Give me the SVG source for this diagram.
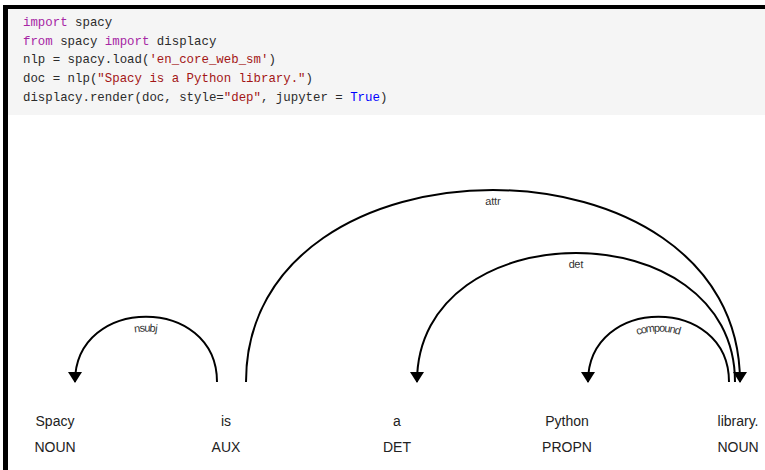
<svg xmlns="http://www.w3.org/2000/svg" width="765" height="470" viewBox="0 0 765 470">
<style>
.code{font-family:"Liberation Mono","DejaVu Sans Mono",monospace;font-size:12.4px;fill:#2b2b2b;white-space:pre}
.kw{fill:#a626a4}
.str{fill:#a31515}
.bool{fill:#0000ff}
.word{font-family:"Liberation Sans",Arial,sans-serif;font-size:14px;fill:#222;text-anchor:middle}
.arc{fill:none;stroke:#000;stroke-width:2}
.lbl{font-family:"Liberation Sans",Arial,sans-serif;font-size:11px;fill:#333;text-anchor:middle}
.head{fill:#000}
</style>
<defs>
<path id="p-nsubj" d="M75,382 C75,295 217,295 217,382"/>
<path id="p-attr" d="M246,382 C246,126 740,126 740,382"/>
<path id="p-det" d="M417,382 C417,210 735,210 735,382"/>
<path id="p-comp" d="M588,382 C588,295 729,295 729,382"/>
</defs>
<rect x="0" y="0" width="765" height="470" fill="#fff"/>
<rect x="3" y="5" width="762" height="4" fill="#000"/>
<rect x="3" y="5" width="5" height="465" fill="#000"/>
<rect x="8" y="9" width="757" height="106" fill="#f5f5f5"/>
<text class="code" x="23" y="26"><tspan class="kw">import</tspan> spacy</text>
<text class="code" x="23" y="44.7"><tspan class="kw">from</tspan> spacy <tspan class="kw">import</tspan> displacy</text>
<text class="code" x="23" y="63.4">nlp = spacy.load(<tspan class="str">'en_core_web_sm'</tspan>)</text>
<text class="code" x="23" y="82.1">doc = nlp(<tspan class="str">"Spacy is a Python library."</tspan>)</text>
<text class="code" x="23" y="100.8">displacy.render(doc, style=<tspan class="str">"dep"</tspan>, jupyter = <tspan class="bool">True</tspan>)</text>
<g id="w0"><text class="word" x="55" y="426">Spacy</text><text class="word" x="55" y="452">NOUN</text></g>
<g id="w1"><text class="word" x="226" y="426">is</text><text class="word" x="226" y="452">AUX</text></g>
<g id="w2"><text class="word" x="397" y="426">a</text><text class="word" x="397" y="452">DET</text></g>
<g id="w3"><text class="word" x="567" y="426">Python</text><text class="word" x="567" y="452">PROPN</text></g>
<g id="w4"><text class="word" x="738" y="426">library.</text><text class="word" x="738" y="452">NOUN</text></g>
<g id="connectors">
<use href="#p-nsubj" class="arc"/>
<use href="#p-attr" class="arc"/>
<use href="#p-det" class="arc"/>
<use href="#p-comp" class="arc"/>
<text class="lbl" dy="1.35em"><textPath href="#p-nsubj" startOffset="50%">nsubj</textPath></text>
<text class="lbl" dy="1.35em"><textPath href="#p-attr" startOffset="50%">attr</textPath></text>
<text class="lbl" dy="1.35em"><textPath href="#p-det" startOffset="50%">det</textPath></text>
<text class="lbl" dy="1.35em"><textPath href="#p-comp" startOffset="50%">compound</textPath></text>
<path class="head" d="M68,372 L82,372 L75,383 Z"/>
<path class="head" d="M733,372 L747,372 L740,383 Z"/>
<path class="head" d="M410,372 L424,372 L417,383 Z"/>
<path class="head" d="M581,372 L595,372 L588,383 Z"/>
</g>
</svg>
